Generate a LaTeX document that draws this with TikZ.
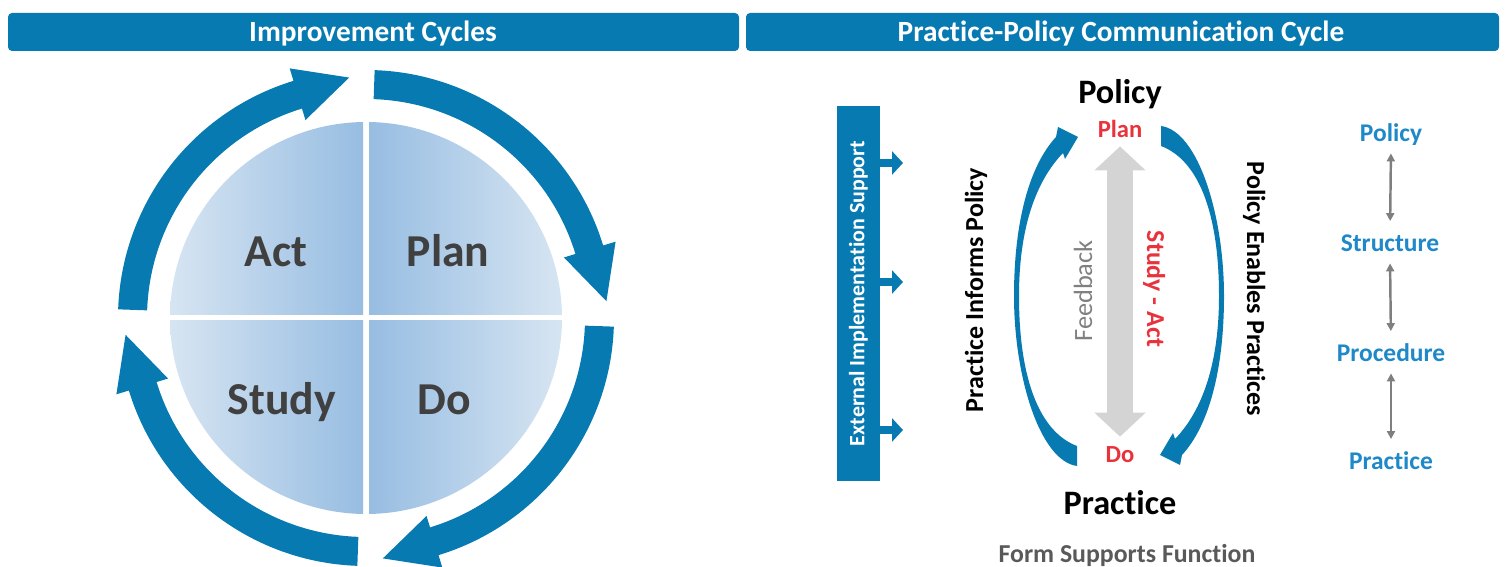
\documentclass[tikz,border=0pt]{standalone}
\usepackage{fontspec}
\setmainfont[Ligatures=NoCommon]{Carlito}
\usetikzlibrary{arrows.meta}
\definecolor{barblue}{HTML}{087AB2}
\definecolor{qlight}{HTML}{D7E5F2}
\definecolor{qdark}{HTML}{97BDE2}
\definecolor{quadgray}{HTML}{404040}
\definecolor{planred}{HTML}{E8323C}
\definecolor{colblue}{HTML}{1E88C8}
\definecolor{fbgray}{HTML}{D4D4D4}
\definecolor{fbtext}{HTML}{808080}
\definecolor{formgray}{HTML}{595959}
\definecolor{linkgray}{HTML}{7F7F7F}
\newcommand{\setfs}[1]{\fontsize{#1}{#1}\selectfont}

\begin{document}
\begin{tikzpicture}[x=0.02cm,y=0.02cm,
    headtext/.style={white,font=\bfseries\setfs{16.7pt},anchor=base},
    quadtext/.style={quadgray,font=\bfseries\setfs{26pt},anchor=base},
    bigtext/.style={black,font=\bfseries\setfs{19.5pt},anchor=base},
    redtext/.style={planred,font=\bfseries\setfs{14pt},anchor=base,text height=10pt,text depth=2.8pt},
    sidetext/.style={black,font=\bfseries\setfs{14.8pt},anchor=base},
    coltext/.style={colblue,font=\bfseries\setfs{14.5pt},anchor=base,text height=10.4pt,text depth=2.9pt},
    extbar/.style={fill=barblue,text=white,font=\bfseries\setfs{12.5pt},rotate=90,minimum width=213.8pt,minimum height=24.4pt},
    extarrow/.style={barblue,line width=4pt,-{Triangle[width=13pt,length=6.2pt]}},
    fbarrow/.style={fbgray,line width=14.7pt,{Triangle[width=28.3pt,length=13.6pt]}-{Triangle[width=28.3pt,length=13.6pt]}},
    linkarrow/.style={linkgray,line width=1.4pt,{Triangle[width=4.5pt,length=4.5pt]}-{Triangle[width=4.5pt,length=4.5pt]},shorten <=3.4pt,shorten >=7pt}]
    \tikzstyle{every node}+=[inner sep=0pt]
    \useasboundingbox (0,0) rectangle (1505,567);
    % header bars
    \fill [barblue, rounded corners=2.3pt] (8,516) rectangle (739,554);
    \fill [barblue, rounded corners=2.3pt] (746,516) rectangle (1499,554);
    \node [headtext] (hdcycle) at (373,525) {Improvement Cycles};
    \node [headtext] (hdcomm) at (1121,525) {Practice-Policy Communication Cycle};
    % improvement cycle
    \begin{scope}[shift={(366,249)}]
        \begin{scope}
            \clip (0,0) circle (196);
            \shade [left color=qlight, right color=qdark] (-197,3) rectangle (-3,197);
            \shade [left color=qdark, right color=qlight] (3,3) rectangle (197,197);
            \shade [left color=qlight, right color=qdark] (-197,-197) rectangle (-3,-3);
            \shade [left color=qdark, right color=qlight] (3,-197) rectangle (197,-3);
        \end{scope}
        \foreach \a in {0,-90,180,90}
            \fill [barblue] ({\a+88}:248) arc [start angle=\a+88, end angle=\a+17, radius=248]
                -- ({\a+17}:261) -- ({\a+4}:241) -- ({\a+17}:207) -- ({\a+17}:219)
                arc [start angle=\a+17, end angle=\a+88, radius=219] -- cycle;
        \node [quadtext] (act) at (-90,51) {Act};
        \node [quadtext] (plan) at (82,51) {Plan};
        \node [quadtext] (study) at (-84,-97) {Study};
        \node [quadtext] (do) at (78,-97) {Do};
    \end{scope}
    % external support
    \node [extbar] (ext) at (858.5,273.5) {External Implementation Support};
    \foreach \y [count=\i] in {404,285,137} {
        \coordinate (ea\i) at (903,\y);
        \draw [extarrow] (ext.south |- ea\i) -- (ea\i);
    }
    % communication cycle
    \node [bigtext] (policy) at (1120,463) {Policy};
    \node [bigtext] (practice) at (1120,52) {Practice};
    \node [redtext] (pplan) at (1120,429) {Plan};
    \node [redtext] (pdo) at (1120,104) {Do};
    \draw [fbarrow, shorten <=1.8pt, shorten >=4.8pt] (pplan.south) -- (pdo.north);
    \node [fbtext, font=\setfs{15pt}, anchor=base, rotate=90] (feedback) at (1092,276) {Feedback};
    \node [planred, font=\bfseries\setfs{14.7pt}, anchor=base, rotate=-90] (studyact) at (1147,278) {Study - Act};
    \foreach \r in {0,180}
        \fill [barblue, rotate around={\r:(1119,271)}] (1077,101)
            .. controls (1040,106) and (1014,190) .. (1014,271)
            .. controls (1014,347) and (1030,402) .. (1056,430)
            -- (1058,440) -- (1078,430) -- (1065,408) -- (1063,414)
            .. controls (1035,385) and (1019,337) .. (1019,271)
            .. controls (1019,187) and (1040,135) .. (1077,121) -- cycle;
    \node [sidetext, rotate=90] (informs) at (983,277) {Practice Informs Policy};
    \node [sidetext, rotate=-90] (enables) at (1247,278) {Policy Enables Practices};
    \node [formgray, font=\bfseries\setfs{14.7pt}, anchor=base] (form) at (1127,4) {Form Supports Function};
    % form column
    \node [coltext] (cpolicy) at (1391,425) {Policy};
    \node [coltext] (cstruct) at (1390,315) {Structure};
    \node [coltext] (cproc) at (1391,205) {Procedure};
    \node [coltext] (cpract) at (1391,97) {Practice};
    \draw [linkarrow] (cpolicy.south) -- (cstruct.north);
    \draw [linkarrow] (cstruct.south) -- (cproc.north);
    \draw [linkarrow] (cproc.south) -- (cpract.north);
\end{tikzpicture}
\end{document}
